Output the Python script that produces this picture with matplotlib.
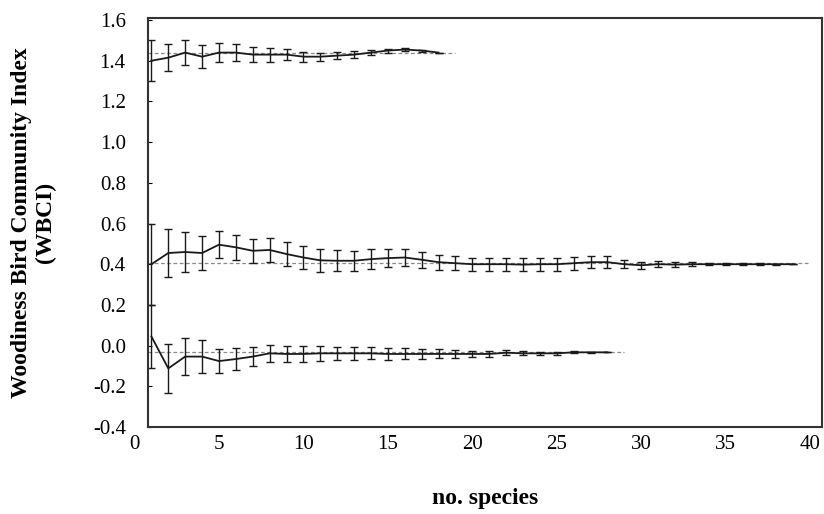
import matplotlib.pyplot as plt
import numpy as np

# species counts for each curve
x_top = list(range(1, 19))
x_mid = list(range(1, 40))
x_bot = list(range(1, 29))

# mean WBCI and error for the top curve
y_top = [1.40, 1.415, 1.44, 1.42, 1.44, 1.44, 1.43, 1.43, 1.43, 1.42, 1.42, 1.425,
         1.43, 1.44, 1.45, 1.455, 1.45, 1.44]
e_top = [0.10, 0.065, 0.06, 0.055, 0.047, 0.04, 0.036, 0.034, 0.027, 0.025, 0.019, 0.017,
         0.016, 0.014, 0.010, 0.008, 0.005, 0.0]

# middle curve
y_mid = [0.40, 0.455, 0.46, 0.455, 0.496, 0.483, 0.466, 0.47, 0.45, 0.433, 0.419, 0.417,
         0.417, 0.425, 0.43, 0.433, 0.422, 0.41, 0.405, 0.40, 0.40, 0.40, 0.398, 0.40,
         0.40, 0.405, 0.41, 0.41, 0.40, 0.395, 0.40, 0.398, 0.40, 0.40, 0.40, 0.40,
         0.40, 0.40, 0.40]
e_mid = [0.20, 0.12, 0.10, 0.085, 0.065, 0.063, 0.06, 0.058, 0.058, 0.057, 0.055, 0.052,
         0.05, 0.05, 0.043, 0.04, 0.04, 0.036, 0.034, 0.032, 0.032, 0.032, 0.032, 0.032,
         0.032, 0.032, 0.03, 0.03, 0.02, 0.018, 0.015, 0.013, 0.01, 0.006, 0.005, 0.005,
         0.004, 0.003, 0.0]

# bottom curve
y_bot = [0.045, -0.112, -0.054, -0.054, -0.076, -0.066, -0.054, -0.038, -0.041, -0.041,
         -0.038, -0.038, -0.038, -0.038, -0.041, -0.041, -0.041, -0.041, -0.041, -0.041,
         -0.041, -0.035, -0.038, -0.038, -0.038, -0.033, -0.033, -0.033]
e_bot = [0.155, 0.12, 0.092, 0.08, 0.06, 0.056, 0.046, 0.041, 0.038, 0.038, 0.036, 0.033,
         0.032, 0.03, 0.03, 0.027, 0.025, 0.022, 0.02, 0.015, 0.013, 0.012, 0.01, 0.008,
         0.006, 0.005, 0.003, 0.0]

# dashed reference levels and where they stop
ref_vals = [1.44, 0.405, -0.03]
ref_ends = [19, 40, 29]

xticks = [0, 5, 10, 15, 20, 25, 30, 35, 40]
yticks = [-0.4, -0.2, 0.0, 0.2, 0.4, 0.6, 0.8, 1.0, 1.2, 1.4, 1.6]

plt.rcParams['font.family'] = ['Liberation Serif', 'DejaVu Serif']

fig = plt.figure(figsize=(8.24, 5.14), dpi=100)
ax = fig.add_axes([134.5 / 824, 87 / 514, 687.5 / 824, 409 / 514])

x_left = 0.8  # where the drawn frame starts
x_right = 40.7

for rv, re_ in zip(ref_vals, ref_ends):
    ax.plot([x_left, re_], [rv, rv], ls=(0, (3, 2)), color='#8a8a8a', lw=0.9, zorder=1)

for xs, ys, es in [(x_top, y_top, e_top), (x_mid, y_mid, e_mid), (x_bot, y_bot, e_bot)]:
    ax.errorbar(xs, ys, yerr=es, color='#1a1a1a', lw=1.3, elinewidth=1.0,
                capsize=3, capthick=1.0, zorder=2)

ax.set_xlim(0, x_right)
ax.set_ylim(-0.4, 1.61)
ax.set_xticks(xticks)
ax.set_xticklabels([str(t) for t in xticks])
ax.set_yticks(yticks)
ax.set_yticklabels(['%.1f' % t for t in yticks])

for s in ax.spines.values():
    s.set_color('#333333')
    s.set_linewidth(1.5)
ax.spines['left'].set_position(('data', x_left))
ax.spines['top'].set_bounds(x_left, x_right)
ax.spines['bottom'].set_bounds(x_left, x_right)

ax.tick_params(axis='x', length=0, pad=6, labelsize=15)
ax.tick_params(axis='y', direction='in', length=3, pad=16, labelsize=15)

ax.set_xlabel('no. species', fontsize=17, fontweight='bold')
ax.xaxis.set_label_coords(0.51, -0.15)
ax.set_ylabel('Woodiness Bird Community Index\n(WBCI)', fontsize=17, fontweight='bold')
ax.yaxis.set_label_coords(-0.114, 0.5)

fig.savefig('out.png', dpi=100)
